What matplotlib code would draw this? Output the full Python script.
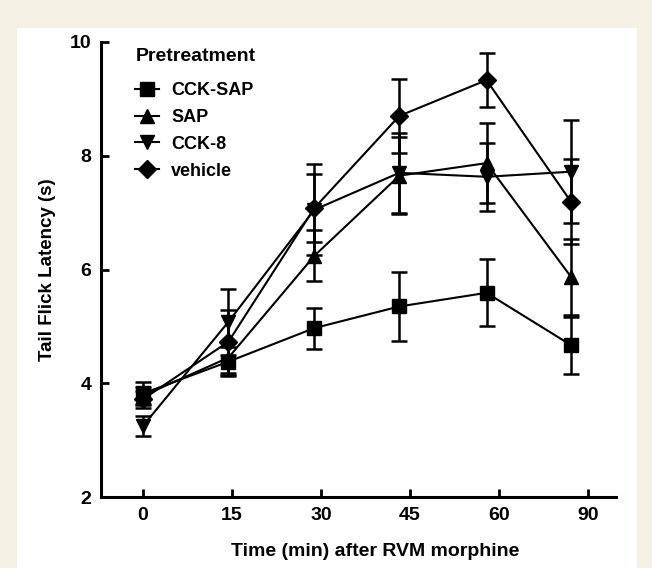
import matplotlib.pyplot as plt
from matplotlib.patches import Rectangle

plt.rcParams['font.family'] = ['Liberation Sans', 'DejaVu Sans']

# data
times = ['0', '15', '30', '45', '60', '90']
xpos = [0, 0.96, 1.925, 2.88, 3.86, 4.81]   # points sit slightly left of the ticks

cck_sap = [3.82, 4.38, 4.97, 5.35, 5.59, 4.67]
cck_sap_err = [0.20, 0.25, 0.36, 0.61, 0.59, 0.50]
sap = [3.78, 4.45, 6.24, 7.65, 7.87, 5.87]
sap_err = [0.15, 0.30, 0.45, 0.68, 0.70, 0.67]
cck8 = [3.25, 5.08, 7.05, 7.70, 7.63, 7.72]
cck8_err = [0.17, 0.58, 0.80, 0.70, 0.60, 0.91]
vehicle = [3.72, 4.73, 7.08, 8.70, 9.33, 7.19]
vehicle_err = [0.15, 0.55, 0.60, 0.65, 0.48, 0.75]

series = [
    ('CCK-SAP', cck_sap, cck_sap_err, 's', 10),
    ('SAP', sap, sap_err, '^', 10),
    ('CCK-8', cck8, cck8_err, 'v', 10),
    ('vehicle', vehicle, vehicle_err, 'D', 9.5),
]

fig = plt.figure(figsize=(6.52, 5.68), dpi=100)
fig.patch.set_facecolor('#f4f1e4')
fig.add_artist(Rectangle((17 / 652, 0), 620 / 652, 1 - 28 / 568,
                         transform=fig.transFigure, facecolor='white',
                         edgecolor='none', zorder=-10))

ax = fig.add_axes([101 / 652, 1 - 497 / 568, 515 / 652, 455 / 568])
ax.set_facecolor('none')

for name, y, err, m, ms in series:
    ax.errorbar(xpos, y, yerr=err, color='black', marker=m, markersize=ms,
                lw=1.5, elinewidth=1.8, capsize=6, capthick=1.8, label=name)

ax.set_xlim(-0.472, 5.315)
ax.set_ylim(2, 10)
ax.set_xticks(range(len(times)))
ax.set_xticklabels(times)
ax.set_yticks([2, 4, 6, 8, 10])

for s in ['top', 'right']:
    ax.spines[s].set_visible(False)
for s in ['left', 'bottom']:
    ax.spines[s].set_linewidth(2.2)
ax.tick_params(direction='in', length=6, width=2, labelsize=14, pad=7)
for lab in ax.get_xticklabels() + ax.get_yticklabels():
    lab.set_fontweight('bold')

ax.set_xlabel('Time (min) after RVM morphine', fontsize=14, fontweight='bold')
ax.xaxis.set_label_coords(0.532, -0.102)
ax.set_ylabel('Tail Flick Latency (s)', fontsize=13.5, fontweight='bold', labelpad=10)

handles = [h[0] for h in ax.get_legend_handles_labels()[0]]
leg = ax.legend(handles, [s[0] for s in series], loc='upper left',
                bbox_to_anchor=(0.035, 1.022), frameon=False, handlelength=1.3,
                handletextpad=0.7, labelspacing=0.55, title='Pretreatment',
                prop={'size': 13, 'weight': 'bold'},
                title_fontproperties={'size': 14, 'weight': 'bold'})
leg._legend_box.align = 'left'
leg._legend_box.sep = 12

fig.savefig('out.png', dpi=100, facecolor=fig.get_facecolor())
